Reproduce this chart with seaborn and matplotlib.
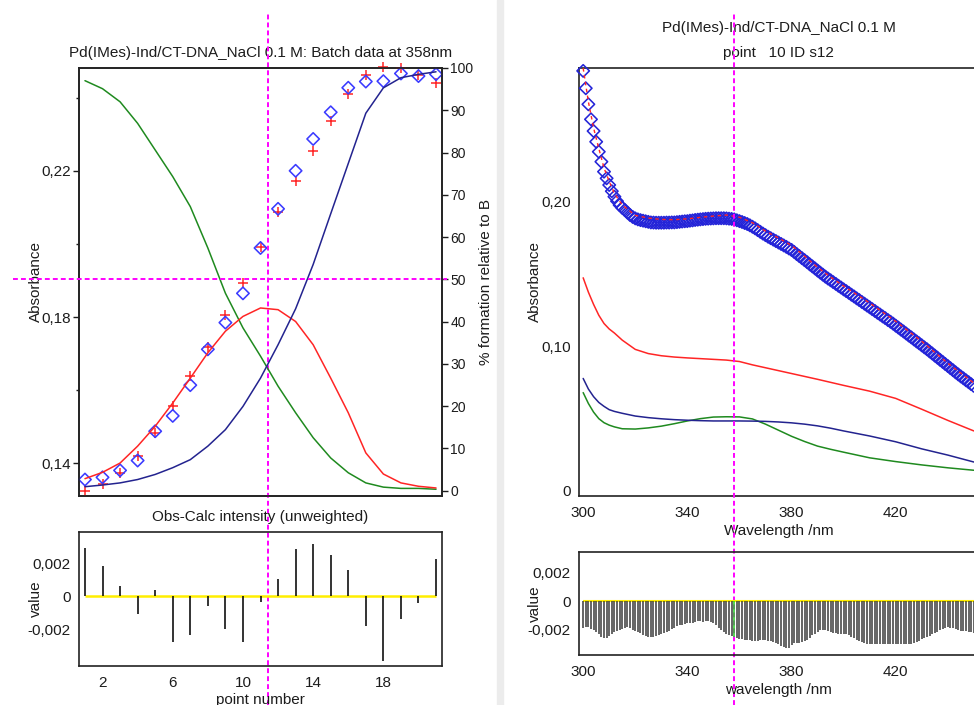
import matplotlib
matplotlib.use("Agg")
import matplotlib.pyplot as plt
from matplotlib.patches import Rectangle
from matplotlib.ticker import FixedLocator, FuncFormatter
import numpy as np
import seaborn as sns

# ---- left panel: batch data at 358 nm, 21 titration points ----
point_no = list(range(1, 22))
abs_obs = [0.1356, 0.1362, 0.1381, 0.1408, 0.1488, 0.1530, 0.1614, 0.1712, 0.1785, 0.1865, 0.1989,
           0.2096, 0.2200, 0.2287, 0.2360, 0.2427, 0.2444, 0.2445, 0.2466, 0.2459, 0.2464]
abs_calc = [0.1326, 0.1343, 0.1374, 0.1419, 0.1484, 0.1558, 0.1638, 0.1718, 0.1805, 0.1893, 0.1993,
            0.2086, 0.2171, 0.2255, 0.2335, 0.2411, 0.2462, 0.2484, 0.2480, 0.2463, 0.2441]
resid_batch = [0.00296, 0.00188, 0.00065, -0.00106, 0.00037, -0.00278, -0.00239, -0.00059, -0.00198,
               -0.00278, -0.00035, 0.00104, 0.00290, 0.00322, 0.00251, 0.00159, -0.00184, -0.00394,
               -0.00137, -0.00041, 0.00229]
pct_free = [97.0, 95.1, 92.0, 86.9, 80.6, 74.3, 67.2, 57.4, 46.7, 38.5, 31.8,
            24.7, 18.4, 12.5, 7.7, 4.2, 1.8, 0.8, 0.5, 0.5, 0.3]
pct_mid = [2.8, 4.3, 6.5, 10.5, 15.2, 20.7, 26.6, 32.6, 37.7, 41.2, 43.2,
           42.8, 40.0, 34.5, 26.6, 18.4, 8.9, 3.9, 1.8, 1.0, 0.6]
pct_bound = [0.9, 1.3, 1.8, 2.6, 3.8, 5.4, 7.3, 10.5, 14.4, 19.9, 26.6,
             34.5, 43.0, 53.5, 65.5, 77.4, 89.3, 95.3, 97.7, 98.5, 99.1]
cursor_point = 11.4
cursor_pct = 50

# ---- right panel: spectrum of point 10 ----
wl_obs = list(range(300, 451))
spec_obs = [
    0.2905, 0.2785, 0.2674, 0.2570, 0.2489, 0.2415, 0.2346, 0.2277, 0.2208, 0.2162,
    0.2116, 0.2073, 0.2035, 0.2004, 0.1977, 0.1958, 0.1943, 0.1925, 0.1908, 0.1895,
    0.1885, 0.1878, 0.1873, 0.1869, 0.1865, 0.1861, 0.1857, 0.1856, 0.1855, 0.1855,
    0.1855, 0.1855, 0.1856, 0.1856, 0.1857, 0.1857, 0.1859, 0.1861, 0.1863, 0.1865,
    0.1866, 0.1869, 0.1871, 0.1874, 0.1876, 0.1878, 0.1880, 0.1882, 0.1883, 0.1884,
    0.1885, 0.1886, 0.1886, 0.1886, 0.1886, 0.1885, 0.1883, 0.1881, 0.1878, 0.1872,
    0.1866, 0.1860, 0.1853, 0.1846, 0.1837, 0.1827, 0.1816, 0.1804, 0.1792, 0.1780,
    0.1769, 0.1758, 0.1748, 0.1738, 0.1728, 0.1718, 0.1708, 0.1698, 0.1688, 0.1677,
    0.1667, 0.1653, 0.1638, 0.1624, 0.1610, 0.1596, 0.1582, 0.1567, 0.1553, 0.1539,
    0.1524, 0.1510, 0.1496, 0.1482, 0.1469, 0.1457, 0.1444, 0.1432, 0.1419, 0.1407,
    0.1394, 0.1382, 0.1370, 0.1357, 0.1345, 0.1332, 0.1320, 0.1307, 0.1295, 0.1282,
    0.1270, 0.1257, 0.1245, 0.1232, 0.1220, 0.1207, 0.1195, 0.1182, 0.1170, 0.1157,
    0.1143, 0.1130, 0.1116, 0.1103, 0.1089, 0.1075, 0.1062, 0.1048, 0.1034, 0.1021,
    0.1007, 0.0993, 0.0980, 0.0965, 0.0951, 0.0936, 0.0922, 0.0907, 0.0893, 0.0878,
    0.0864, 0.0849, 0.0835, 0.0820, 0.0806, 0.0792, 0.0779, 0.0765, 0.0752, 0.0738,
    0.0725]
resid_spec_milli = [
    -1.93, -1.87, -1.83, -1.95, -2.07, -2.20, -2.33, -2.52, -2.64, -2.58,
    -2.46, -2.33, -2.21, -2.13, -2.03, -1.95, -1.88, -1.82, -1.90, -2.03,
    -2.10, -2.16, -2.28, -2.40, -2.49, -2.56, -2.55, -2.51, -2.45, -2.38,
    -2.30, -2.23, -2.19, -2.10, -1.98, -1.88, -1.79, -1.72, -1.66, -1.62,
    -1.58, -1.56, -1.53, -1.47, -1.41, -1.43, -1.46, -1.44, -1.41, -1.47,
    -1.58, -1.72, -1.88, -2.05, -2.18, -2.30, -2.40, -2.45, -2.53, -2.62,
    -2.68, -2.71, -2.73, -2.75, -2.78, -2.80, -2.80, -2.80, -2.78, -2.75,
    -2.79, -2.82, -2.85, -2.87, -2.96, -3.06, -3.18, -3.26, -3.33, -3.30,
    -3.12, -3.00, -2.97, -2.95, -2.92, -2.84, -2.76, -2.60, -2.43, -2.30,
    -2.19, -2.07, -2.06, -2.08, -2.11, -2.17, -2.23, -2.27, -2.31, -2.33,
    -2.33, -2.33, -2.41, -2.52, -2.64, -2.73, -2.82, -2.90, -2.97, -3.03,
    -3.04, -3.04, -3.05, -3.04, -3.04, -3.05, -3.04, -3.04, -3.05, -3.04,
    -3.04, -3.05, -3.04, -3.04, -3.03, -3.02, -3.01, -2.99, -2.90, -2.80,
    -2.70, -2.61, -2.53, -2.44, -2.35, -2.27, -2.18, -2.08, -2.01, -1.93,
    -1.87, -1.89, -1.92, -1.98, -2.04, -2.09, -2.12, -2.15, -2.19, -2.22,
    -2.24]
wl_fit = [300, 302, 304, 306, 308, 310, 312, 315, 320, 325, 330, 335, 340, 345, 350,
          355, 360, 365, 370, 375, 380, 385, 390, 395, 400, 410, 420, 430, 440, 450]
spec_calc = [0.2924, 0.2692, 0.2510, 0.2369, 0.2234, 0.2141, 0.2057, 0.1978, 0.1906, 0.1887,
             0.1878, 0.1876, 0.1882, 0.1892, 0.1901, 0.1908, 0.1893, 0.1855, 0.1797, 0.1749,
             0.1698, 0.1624, 0.1546, 0.1479, 0.1417, 0.1300, 0.1173, 0.1035, 0.0883, 0.0747]
spec_free = [0.0680, 0.0605, 0.0545, 0.0500, 0.0472, 0.0455, 0.0443, 0.0430, 0.0428, 0.0436,
             0.0448, 0.0465, 0.0484, 0.0500, 0.0511, 0.0513, 0.0512, 0.0498, 0.0462, 0.0420,
             0.0378, 0.0342, 0.0310, 0.0288, 0.0268, 0.0229, 0.0203, 0.0180, 0.0160, 0.0143]
spec_mid = [0.1474, 0.1375, 0.1290, 0.1215, 0.1158, 0.1120, 0.1092, 0.1043, 0.0979, 0.0950,
            0.0935, 0.0926, 0.0920, 0.0915, 0.0910, 0.0905, 0.0895, 0.0872, 0.0852, 0.0832,
            0.0812, 0.0792, 0.0772, 0.0751, 0.0730, 0.0690, 0.0640, 0.0565, 0.0488, 0.0415]
spec_bound = [0.0778, 0.0705, 0.0652, 0.0612, 0.0585, 0.0562, 0.0550, 0.0537, 0.0518, 0.0507,
              0.0499, 0.0493, 0.0489, 0.0486, 0.0484, 0.0484, 0.0484, 0.0483, 0.0481, 0.0477,
              0.0471, 0.0462, 0.0450, 0.0434, 0.0415, 0.0380, 0.0340, 0.0291, 0.0248, 0.0200]
cursor_wl = 358

GREEN = "#1f8a1f"
RED = "#ff2525"
NAVY = "#23238f"
DIAMOND = "#3b3bff"
DIAMOND_DARK = "#2424d8"
MAGENTA = "#ff00ff"
INK = "#1c1c1c"
FS = 11

sns.set_style("white")
plt.rcParams["font.family"] = ["Liberation Sans", "DejaVu Sans"]
plt.rcParams["axes.unicode_minus"] = False
plt.rcParams["axes.edgecolor"] = "#222222"
plt.rcParams["axes.linewidth"] = 1.2
plt.rcParams["text.color"] = INK
plt.rcParams["axes.labelcolor"] = INK

W, H = 974, 705
fig = plt.figure(figsize=(W / 100, H / 100), dpi=100)
fig.add_artist(Rectangle((497 / W, 0), 6 / W, 1, transform=fig.transFigure,
                         color="#ececec", zorder=0))


def add_axes_px(x0, y0, x1, y1):
    ax = fig.add_axes([x0 / W, 1 - y1 / H, (x1 - x0) / W, (y1 - y0) / H])
    ax.set_facecolor("none")
    return ax


def comma(decimals):
    def fmt(v, pos):
        if abs(v) < 1e-12:
            return "0"
        return f"{v:.{decimals}f}".replace(".", ",")
    return FuncFormatter(fmt)


def style_ticks(ax, labelsize=FS):
    ax.tick_params(which="both", direction="out", colors=INK, labelsize=labelsize, width=1)
    ax.tick_params(which="major", length=4.5, pad=1.5)
    ax.tick_params(which="minor", length=2.5)


dash = (0, (2.5, 1.6))

# ---------------- left top: absorbance + species ----------------
ax_bt = add_axes_px(79, 68, 442, 496)
sns.scatterplot(x=point_no, y=abs_calc, marker="+", s=60, color=RED, edgecolor=RED,
                linewidth=1.1, ax=ax_bt, legend=False, clip_on=False, zorder=3)
sns.scatterplot(x=point_no, y=abs_obs, marker="D", s=40, color="none", edgecolor=DIAMOND,
                linewidth=1.15, ax=ax_bt, legend=False, clip_on=False, zorder=4)
ax_bt.set_ylim(0.1311, 0.2481)
ax_bt.yaxis.set_major_locator(FixedLocator([0.14, 0.18, 0.22]))
ax_bt.yaxis.set_minor_locator(FixedLocator([0.16, 0.20, 0.24]))
ax_bt.yaxis.set_major_formatter(comma(2))
style_ticks(ax_bt)
ax_bt.tick_params(axis="x", which="both", bottom=False, labelbottom=False)
ax_bt.set_ylabel("Absorbance", fontsize=FS)
ax_bt.yaxis.set_label_coords(-0.099, 0.5)
ax_bt.set_title("Pd(IMes)-Ind/CT-DNA_NaCl 0.1 M: Batch data at 358nm", fontsize=FS, pad=8)

ax_bp = ax_bt.twinx()
for vals, col in [(pct_free, GREEN), (pct_mid, RED), (pct_bound, NAVY)]:
    sns.lineplot(x=point_no, y=vals, color=col, lw=1.1, ax=ax_bp, estimator=None,
                 sort=False, legend=False)
ax_bp.set_ylim(-1.3, 100)
ax_bp.yaxis.set_major_locator(FixedLocator(list(range(0, 101, 10))))
style_ticks(ax_bp, labelsize=10)
ax_bp.set_ylabel("% formation relative to B", fontsize=FS)
ax_bp.yaxis.set_label_coords(1.103, 0.5)
ax_bp.axhline(cursor_pct, xmin=-0.182, xmax=1.0138, color=MAGENTA, lw=1.4, ls=dash,
              clip_on=False, zorder=5)
ax_bt.axvline(cursor_point, ymin=-0.4883, ymax=1.1285, color=MAGENTA, lw=1.4, ls=dash,
              clip_on=False, zorder=5)
ax_bt.set_xlim(0.66, 21.34)

# ---------------- left bottom: residuals ----------------
ax_br = add_axes_px(79, 532, 442, 666)
ax_br.hlines(0, point_no[0], point_no[-1], color="#ffee00", lw=1.8, zorder=1)
ax_br.vlines(point_no, 0, resid_batch, color="#111111", lw=1.2, zorder=2)
ax_br.set_xlim(0.66, 21.34)
ax_br.set_ylim(-0.00426, 0.00393)
ax_br.xaxis.set_major_locator(FixedLocator([2, 6, 10, 14, 18]))
ax_br.xaxis.set_minor_locator(FixedLocator([4, 8, 12, 16, 20]))
ax_br.yaxis.set_major_locator(FixedLocator([-0.002, 0, 0.002]))
ax_br.yaxis.set_major_formatter(comma(3))
style_ticks(ax_br)
ax_br.tick_params(axis="x", pad=3)
ax_br.set_title("Obs-Calc intensity (unweighted)", fontsize=FS, pad=8)
ax_br.set_xlabel("point number", fontsize=FS)
ax_br.xaxis.set_label_coords(0.5, -0.2)
ax_br.set_ylabel("value", fontsize=FS)
ax_br.yaxis.set_label_coords(-0.099, 0.5)

# ---------------- right top: spectrum ----------------
ax_st = add_axes_px(579, 68, 978, 496)
for vals, col in [(spec_free, GREEN), (spec_bound, NAVY), (spec_mid, RED)]:
    sns.lineplot(x=wl_fit, y=vals, color=col, lw=1.1, ax=ax_st, estimator=None,
                 sort=False, legend=False)
sns.scatterplot(x=wl_obs, y=spec_obs, marker="D", s=40, color="none", edgecolor=DIAMOND_DARK,
                linewidth=1.15, ax=ax_st, legend=False, clip_on=False, zorder=3)
sns.lineplot(x=wl_fit, y=spec_calc, color=RED, lw=1.0, linestyle=(0, (2.5, 2.5)), ax=ax_st,
             estimator=None, sort=False, legend=False, zorder=4)
ax_st.set_xlim(298.4, 451.6)
ax_st.set_ylim(-0.0035, 0.2925)
ax_st.xaxis.set_major_locator(FixedLocator([300, 340, 380, 420, 460]))
ax_st.xaxis.set_minor_locator(FixedLocator([320, 360, 400, 440]))
ax_st.yaxis.set_major_locator(FixedLocator([0, 0.10, 0.20]))
ax_st.yaxis.set_minor_locator(FixedLocator([0.05, 0.15, 0.25]))
ax_st.yaxis.set_major_formatter(comma(2))
style_ticks(ax_st)
ax_st.tick_params(axis="x", pad=3)
ax_st.set_title("Pd(IMes)-Ind/CT-DNA_NaCl 0.1 M\npoint   10 ID s12", fontsize=FS,
                pad=8, linespacing=1.95)
ax_st.set_xlabel("Wavelength /nm", fontsize=FS)
ax_st.xaxis.set_label_coords(0.5, -0.065)
ax_st.set_ylabel("Absorbance", fontsize=FS)
ax_st.yaxis.set_label_coords(-0.0927, 0.5)
ax_st.axvline(cursor_wl, ymin=-0.4883, ymax=1.1285, color=MAGENTA, lw=1.4, ls=dash,
              clip_on=False, zorder=5)

# ---------------- right bottom: spectral residuals ----------------
resid_spec = np.array(resid_spec_milli) * 1e-3
bar_cols = ["#22cc22" if w == cursor_wl else "#3a3a3a" for w in wl_obs]
ax_sr = add_axes_px(579, 552, 978, 655)
ax_sr.hlines(0, wl_obs[0], wl_obs[-1], color="#ffee00", lw=1.5, zorder=1)
ax_sr.vlines(wl_obs, 0, resid_spec, colors=bar_cols, lw=1.1, zorder=2)
ax_sr.set_xlim(298.4, 451.6)
ax_sr.set_ylim(-0.00382, 0.00348)
ax_sr.xaxis.set_major_locator(FixedLocator([300, 340, 380, 420, 460]))
ax_sr.xaxis.set_minor_locator(FixedLocator([320, 360, 400, 440]))
ax_sr.yaxis.set_major_locator(FixedLocator([-0.002, 0, 0.002]))
ax_sr.yaxis.set_major_formatter(comma(3))
style_ticks(ax_sr)
ax_sr.tick_params(axis="x", pad=3)
ax_sr.set_xlabel("wavelength /nm", fontsize=FS)
ax_sr.xaxis.set_label_coords(0.5, -0.275)
ax_sr.set_ylabel("value", fontsize=FS)
ax_sr.yaxis.set_label_coords(-0.093, 0.5)

fig.savefig("out.png", dpi=100)
